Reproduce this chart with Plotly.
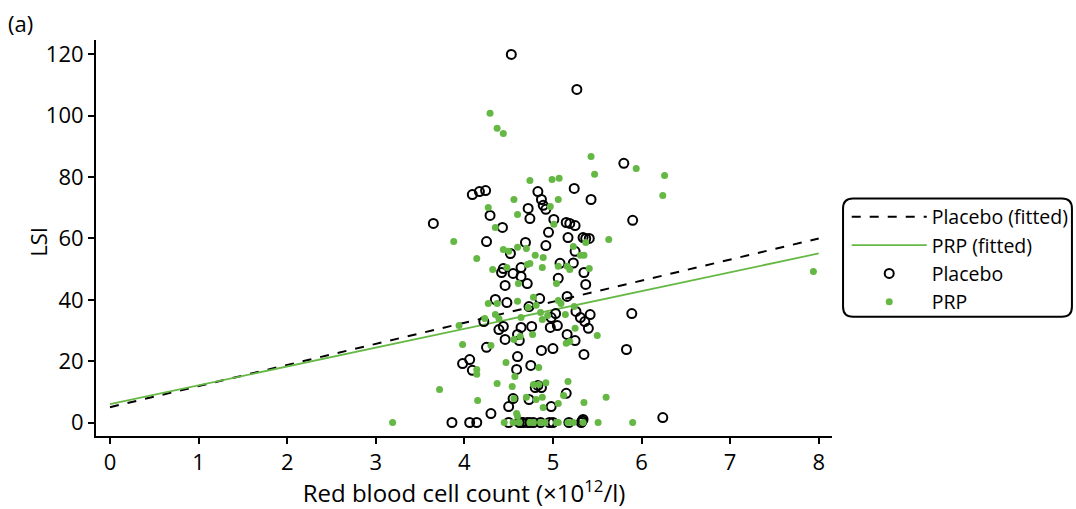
import plotly.graph_objects as go

# ---- data ----
placebo_x = [4.53, 5.27, 5.80, 4.09, 4.17, 4.24, 4.83, 3.65, 4.72, 4.87, 4.89, 4.92, 5.24, 5.43,
             5.90, 5.01, 5.15, 5.19, 5.25, 4.29, 4.25, 4.69, 4.95, 4.92, 5.17, 5.34, 5.37, 5.41,
             5.25, 4.52, 4.64, 4.55, 4.64, 4.42, 4.44, 4.71, 5.06, 5.35, 5.37, 4.46, 5.89, 4.35,
             4.48, 4.85, 4.73, 5.16, 4.22, 4.39, 4.44, 4.60, 4.64, 4.76, 4.98, 5.03, 5.05, 4.97,
             5.26, 5.31, 5.36, 5.40, 5.42, 5.25, 5.35, 5.83, 4.25, 4.87, 5.00, 4.46, 4.62, 3.98,
             4.06, 4.09, 4.60, 4.75, 4.59, 4.30, 4.80, 4.83, 4.87, 4.98, 4.55, 4.73, 5.15, 3.86,
             4.06, 4.14, 4.66, 4.74, 4.71, 4.96, 5.00, 5.32, 5.33, 6.24, 5.34, 4.86, 4.62, 5.18,
             4.43, 4.74, 5.08, 5.23, 5.16, 4.50, 4.50, 4.65, 4.78]
placebo_y = [120.0, 108.6, 84.5, 74.3, 75.3, 75.6, 75.3, 64.9, 69.8, 72.7, 70.8, 69.5, 76.3, 72.7,
             65.9, 66.2, 65.2, 64.9, 64.2, 67.5, 59.0, 58.7, 62.0, 57.7, 60.3, 60.3, 60.0, 60.0,
             55.8, 55.1, 50.5, 48.6, 47.6, 48.9, 50.2, 45.3, 47.0, 48.9, 45.0, 44.7, 35.5, 40.1,
             39.1, 40.4, 37.8, 41.1, 32.9, 30.3, 31.3, 28.7, 31.0, 31.3, 34.2, 35.5, 31.6, 31.0,
             36.2, 34.2, 32.9, 30.7, 35.2, 26.7, 22.2, 23.8, 24.5, 23.5, 24.1, 27.1, 26.7, 19.2,
             20.5, 17.0, 21.5, 18.6, 17.3, 2.9, 11.4, 12.1, 11.4, 5.2, 7.8, 7.5, 9.5, 0.0,
             0.0, 0.0, 0.0, 0.0, 0.0, 0.0, 0.0, 0.0, 0.5, 1.6, 1.0, 0.0, 0.0, 0.0,
             63.6, 66.5, 51.9, 52.0, 28.7, 5.2, 0.0, 0.0, 0.0]

prp_x = [4.29, 4.37, 4.44, 4.74, 4.99, 5.07, 5.43, 5.47, 5.94, 6.26, 6.24, 4.56, 4.97, 5.06,
         4.60, 4.35, 5.01, 3.88, 4.44, 4.60, 4.70, 4.50, 4.71, 4.74, 4.80, 4.89, 5.06, 5.16,
         5.19, 5.23, 5.31, 5.35, 5.37, 5.41, 5.63, 7.94, 4.32, 4.14, 3.94, 3.98, 4.14, 4.15,
         3.72, 4.37, 4.35, 4.61, 4.60, 4.37, 4.23, 4.39, 4.72, 4.64, 4.78, 4.88, 4.94, 4.81,
         4.86, 5.04, 5.06, 5.09, 5.14, 5.24, 5.25, 5.19, 5.15, 5.50, 5.17, 4.92, 4.47, 4.57,
         4.63, 4.77, 4.54, 4.78, 4.81, 4.84, 4.89, 4.59, 4.56, 4.70, 4.88, 5.35, 5.60, 5.12,
         5.06, 4.27, 4.48, 4.88, 4.27, 4.30, 4.56, 4.84, 4.14, 4.60,
         3.19, 4.45, 4.55, 4.78, 4.86, 4.91, 5.04, 5.06, 5.17, 5.23, 5.34, 5.51, 5.90, 4.62, 4.74]
prp_y = [100.8, 95.9, 94.2, 78.9, 79.2, 79.6, 86.7, 80.9, 82.8, 80.5, 74.0, 72.7, 70.4, 72.7,
         67.8, 63.6, 64.6, 59.0, 56.4, 57.1, 56.7, 55.8, 51.5, 51.8, 54.5, 53.8, 50.9, 50.9,
         49.9, 57.4, 54.5, 54.5, 58.7, 50.2, 59.7, 49.2, 49.9, 53.5, 31.6, 25.4, 17.3, 7.2,
         10.8, 12.7, 35.2, 45.3, 39.5, 38.8, 33.9, 33.9, 37.5, 34.2, 40.8, 33.6, 34.9, 38.2,
         35.9, 45.3, 39.8, 38.8, 35.2, 37.8, 30.7, 26.4, 25.8, 28.4, 13.4, 13.0, 19.6, 15.0,
         28.0, 28.7, 11.7, 12.4, 7.5, 12.4, 4.9, 2.9, 7.8, 8.2, 8.2, 6.5, 8.2, 8.8,
         6.2, 70.1, 50.5, 50.5, 38.8, 25.1, 27.1, 17.9, 15.7, 2.0,
         0.0, 0.0, 0.0, 0.0, 0.0, 0.0, 0.0, 0.0, 0.0, 0.0, 0.0, 0.0, 0.0, 0.0, 0.0]

fit_x = [0, 8]
placebo_fit_y = [5.0, 60.0]
prp_fit_y = [6.0, 55.1]

x_ticks = [0, 1, 2, 3, 4, 5, 6, 7, 8]
y_ticks = [0, 20, 40, 60, 80, 100, 120]

GREEN = "#66b845"
FONT = "Open Sans"

fig = go.Figure()
fig.add_trace(go.Scatter(x=fit_x, y=placebo_fit_y, mode="lines", name="Placebo (fitted)",
                         line=dict(color="black", width=2, dash="dash"), legendgroup="a"))
fig.add_trace(go.Scatter(x=fit_x, y=prp_fit_y, mode="lines", name="PRP (fitted)",
                         line=dict(color=GREEN, width=1.8), legendgroup="b"))
fig.add_trace(go.Scatter(x=placebo_x, y=placebo_y, mode="markers", name="Placebo",
                         marker=dict(symbol="circle-open", size=9, color="black",
                                     line=dict(width=2, color="black")), legendgroup="c"))
fig.add_trace(go.Scatter(x=prp_x, y=prp_y, mode="markers", name="PRP",
                         marker=dict(symbol="circle", size=7, color=GREEN), legendgroup="d"))

# legend frame with rounded corners (paper coords)
x0, x1, y0, y1 = 1.015, 1.326, 0.301, 0.600
rx, ry = 0.0136, 0.0253
path = (f"M {x0+rx},{y1} L {x1-rx},{y1} Q {x1},{y1} {x1},{y1-ry} "
        f"L {x1},{y0+ry} Q {x1},{y0} {x1-rx},{y0} L {x0+rx},{y0} Q {x0},{y0} {x0},{y0+ry} "
        f"L {x0},{y1-ry} Q {x0},{y1} {x0+rx},{y1} Z")
fig.add_shape(type="path", path=path, xref="paper", yref="paper",
              line=dict(color="black", width=2))

fig.add_annotation(text="(a)", xref="paper", yref="paper", x=-0.122, y=1.0,
                   xanchor="left", yanchor="bottom", showarrow=False,
                   font=dict(family=FONT, size=22, color="black"))
fig.add_annotation(text="LSI", xref="paper", yref="paper", x=-0.079, y=0.49,
                   xanchor="center", yanchor="middle", textangle=-90, showarrow=False,
                   font=dict(family=FONT, size=22, color="black"))

fig.update_layout(
    width=1076, height=509,
    margin=dict(l=96, r=244, t=40, b=73, autoexpand=False),
    paper_bgcolor="white", plot_bgcolor="white",
    font=dict(family=FONT, size=22, color="black"),
    legend=dict(x=1.02, y=0.602, xanchor="left", yanchor="top",
                font=dict(family=FONT, size=19.5, color="black"),
                bgcolor="rgba(0,0,0,0)", tracegroupgap=0, itemwidth=75),
    showlegend=True,
)
fig.update_xaxes(range=[-0.158, 8.15], tickvals=x_ticks, ticks="outside", ticklen=6,
                 tickwidth=2, tickcolor="black", showline=True, linecolor="black", linewidth=2,
                 showgrid=False, zeroline=False, tickfont=dict(size=22), automargin=False,
                 title=dict(text="Red blood cell count (×10<sup>12</sup>/l)", standoff=12,
                            font=dict(family=FONT, size=24)))
fig.update_yaxes(range=[-4.4, 124.7], tickvals=y_ticks, ticks="outside", ticklen=6,
                 tickwidth=2, tickcolor="black", showline=True, linecolor="black", linewidth=2,
                 showgrid=False, zeroline=False, tickfont=dict(size=22), automargin=False)

fig.write_html("out.html")
